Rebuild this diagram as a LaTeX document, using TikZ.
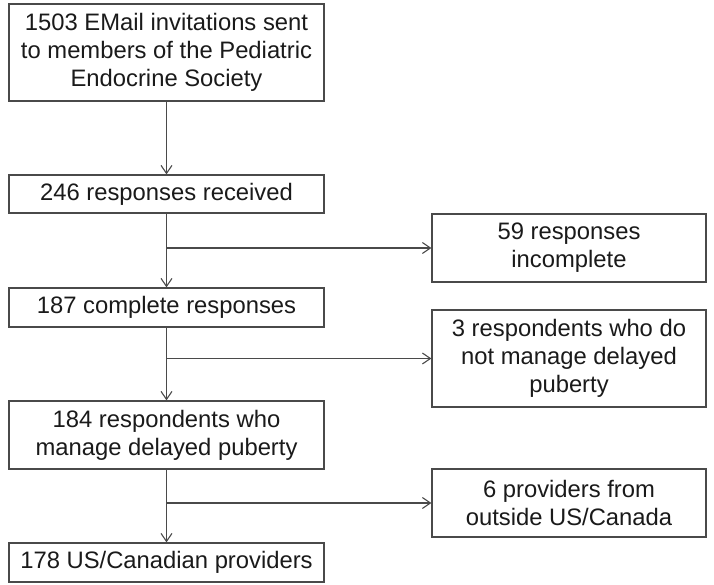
\documentclass[tikz,border=0pt]{standalone}
\usepackage{fontspec}
\setmainfont{Liberation Sans}
\usetikzlibrary{arrows.meta}
\definecolor{linegray}{HTML}{4A4A4A}
\definecolor{textcol}{HTML}{1A1A1A}
\begin{document}
\begin{tikzpicture}[x=1pt,y=-1pt,
  box/.style={draw=linegray, line width=1.3pt, fill=white, inner sep=0pt,
    align=center, text=textcol, font=\fontsize{23.8}{28}\selectfont},
  leftbox/.style={box, minimum width=315pt},
  rightbox/.style={box, minimum width=274pt},
  arr/.style={draw=linegray, line width=1.1pt, -{Straight Barb[length=8pt,width=11pt]}},
  plain/.style={draw=linegray, line width=1.1pt}]
\useasboundingbox (0,0) rectangle (714,585);
\node[leftbox, minimum height=97pt] (b1) at (166.5,52.5)
  {1503 EMail invitations sent\\to members of the Pediatric\\Endocrine Society};
\node[leftbox, minimum height=38pt] (b2) at (166.5,194) {246 responses received};
\node[leftbox, minimum height=39pt] (b4) at (166.5,307.5) {187 complete responses};
\node[leftbox, minimum height=68pt] (b6) at (166.5,435) {184 respondents who\\manage delayed puberty};
\node[leftbox, minimum height=39pt] (b8) at (166.5,562.5) {178 US/Canadian providers};
\node[rightbox, minimum height=68pt] (r1) at (569,248) {59 responses\\incomplete};
\node[rightbox, minimum height=97pt] (r2) at (569,358.5) {3 respondents who do\\not manage delayed\\puberty};
\node[rightbox, minimum height=68pt] (r3) at (569,503) {6 providers from\\outside US/Canada};
\coordinate (j1) at (b2.south |- r1.west);
\coordinate (j2) at (b4.south |- r2.west);
\coordinate (j3) at (b6.south |- r3.west);
\draw[arr] (b1.south) -- (b2.north);
\draw[arr] (b2.south) -- (b4.north);
\draw[arr] (b4.south) -- (b6.north);
\draw[arr] (b6.south) -- (b8.north);
\draw[arr] (j1) -- (r1.west);
\draw[arr] (j2) -- (r2.west);
\draw[arr] (j3) -- (r3.west);
\end{tikzpicture}
\end{document}
